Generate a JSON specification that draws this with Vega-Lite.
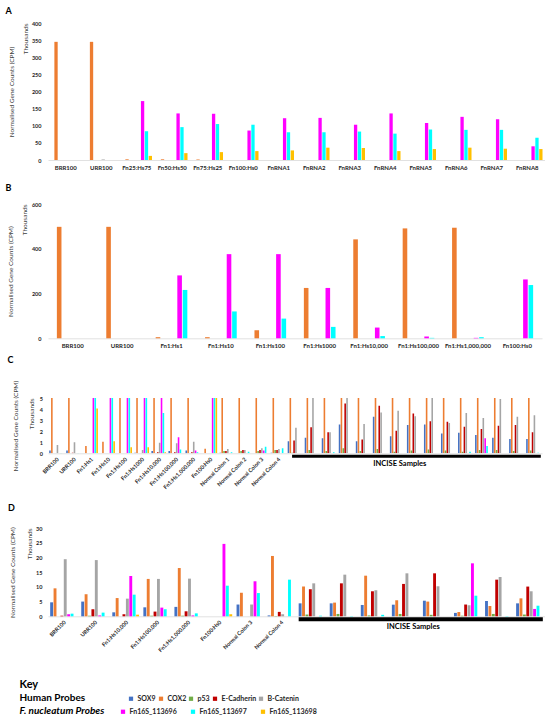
{
  "$schema": "https://vega.github.io/schema/vega-lite/v6.json",
  "background": "white",
  "padding": {"left": 5, "top": 7, "right": 0, "bottom": 0},
  "bounds": "flush",
  "spacing": 0,
  "datasets": {
    "A": [
      {"sample": "BRR100", "probe": "COX2", "value": 345},
      {"sample": "URR100", "probe": "COX2", "value": 345},
      {"sample": "URR100", "probe": "B-Catenin", "value": 1.5},
      {"sample": "Fn25:Hs75", "probe": "COX2", "value": 2},
      {"sample": "Fn25:Hs75", "probe": "Fn16S_113696", "value": 172},
      {"sample": "Fn25:Hs75", "probe": "Fn16S_113697", "value": 84},
      {"sample": "Fn25:Hs75", "probe": "Fn16S_113698", "value": 12},
      {"sample": "Fn50:Hs50", "probe": "COX2", "value": 2},
      {"sample": "Fn50:Hs50", "probe": "Fn16S_113696", "value": 136},
      {"sample": "Fn50:Hs50", "probe": "Fn16S_113697", "value": 96},
      {"sample": "Fn50:Hs50", "probe": "Fn16S_113698", "value": 20},
      {"sample": "Fn75:Hs25", "probe": "COX2", "value": 1.5},
      {"sample": "Fn75:Hs25", "probe": "Fn16S_113696", "value": 135},
      {"sample": "Fn75:Hs25", "probe": "Fn16S_113697", "value": 105},
      {"sample": "Fn75:Hs25", "probe": "Fn16S_113698", "value": 23},
      {"sample": "Fn100:Hs0", "probe": "Fn16S_113696", "value": 86},
      {"sample": "Fn100:Hs0", "probe": "Fn16S_113697", "value": 103},
      {"sample": "Fn100:Hs0", "probe": "Fn16S_113698", "value": 26},
      {"sample": "FnRNA1", "probe": "Fn16S_113696", "value": 122},
      {"sample": "FnRNA1", "probe": "Fn16S_113697", "value": 81},
      {"sample": "FnRNA1", "probe": "Fn16S_113698", "value": 28},
      {"sample": "FnRNA2", "probe": "Fn16S_113696", "value": 123},
      {"sample": "FnRNA2", "probe": "Fn16S_113697", "value": 81},
      {"sample": "FnRNA2", "probe": "Fn16S_113698", "value": 36},
      {"sample": "FnRNA3", "probe": "Fn16S_113696", "value": 103},
      {"sample": "FnRNA3", "probe": "Fn16S_113697", "value": 83},
      {"sample": "FnRNA3", "probe": "Fn16S_113698", "value": 35},
      {"sample": "FnRNA4", "probe": "Fn16S_113696", "value": 136},
      {"sample": "FnRNA4", "probe": "Fn16S_113697", "value": 77},
      {"sample": "FnRNA4", "probe": "Fn16S_113698", "value": 26},
      {"sample": "FnRNA5", "probe": "Fn16S_113696", "value": 108},
      {"sample": "FnRNA5", "probe": "Fn16S_113697", "value": 89},
      {"sample": "FnRNA5", "probe": "Fn16S_113698", "value": 32},
      {"sample": "FnRNA6", "probe": "Fn16S_113696", "value": 126},
      {"sample": "FnRNA6", "probe": "Fn16S_113697", "value": 88},
      {"sample": "FnRNA6", "probe": "Fn16S_113698", "value": 36},
      {"sample": "FnRNA7", "probe": "Fn16S_113696", "value": 119},
      {"sample": "FnRNA7", "probe": "Fn16S_113697", "value": 88},
      {"sample": "FnRNA7", "probe": "Fn16S_113698", "value": 33},
      {"sample": "FnRNA8", "probe": "Fn16S_113696", "value": 40},
      {"sample": "FnRNA8", "probe": "Fn16S_113697", "value": 65},
      {"sample": "FnRNA8", "probe": "Fn16S_113698", "value": 32}
    ],
    "B": [
      {"sample": "BRR100", "probe": "COX2", "value": 498},
      {"sample": "URR100", "probe": "COX2", "value": 498},
      {"sample": "Fn1:Hs1", "probe": "COX2", "value": 5},
      {"sample": "Fn1:Hs1", "probe": "Fn16S_113696", "value": 281},
      {"sample": "Fn1:Hs1", "probe": "Fn16S_113697", "value": 216},
      {"sample": "Fn1:Hs10", "probe": "COX2", "value": 5},
      {"sample": "Fn1:Hs10", "probe": "Fn16S_113696", "value": 376},
      {"sample": "Fn1:Hs10", "probe": "Fn16S_113697", "value": 120},
      {"sample": "Fn1:Hs100", "probe": "COX2", "value": 36},
      {"sample": "Fn1:Hs100", "probe": "Fn16S_113696", "value": 376},
      {"sample": "Fn1:Hs100", "probe": "Fn16S_113697", "value": 88},
      {"sample": "Fn1:Hs1000", "probe": "COX2", "value": 225},
      {"sample": "Fn1:Hs1000", "probe": "Fn16S_113696", "value": 225},
      {"sample": "Fn1:Hs1000", "probe": "Fn16S_113697", "value": 51},
      {"sample": "Fn1:Hs10,000", "probe": "COX2", "value": 442},
      {"sample": "Fn1:Hs10,000", "probe": "Fn16S_113696", "value": 48},
      {"sample": "Fn1:Hs10,000", "probe": "Fn16S_113697", "value": 10},
      {"sample": "Fn1:Hs100,000", "probe": "COX2", "value": 491},
      {"sample": "Fn1:Hs100,000", "probe": "Fn16S_113696", "value": 8},
      {"sample": "Fn1:Hs100,000", "probe": "Fn16S_113697", "value": 2},
      {"sample": "Fn1:Hs1,000,000", "probe": "COX2", "value": 494},
      {"sample": "Fn1:Hs1,000,000", "probe": "Fn16S_113696", "value": 2},
      {"sample": "Fn1:Hs1,000,000", "probe": "Fn16S_113697", "value": 5},
      {"sample": "Fn100:Hs0", "probe": "Fn16S_113696", "value": 263},
      {"sample": "Fn100:Hs0", "probe": "Fn16S_113697", "value": 238}
    ],
    "C": [
      {"sample": "BRR100", "probe": "SOX9", "value": 0.25},
      {"sample": "BRR100", "probe": "COX2", "value": 5},
      {"sample": "BRR100", "probe": "B-Catenin", "value": 0.75},
      {"sample": "BRR100", "probe": "Fn16S_113697", "value": 0.03},
      {"sample": "URR100", "probe": "SOX9", "value": 0.25},
      {"sample": "URR100", "probe": "COX2", "value": 5},
      {"sample": "URR100", "probe": "E-Cadherin", "value": 0.05},
      {"sample": "URR100", "probe": "B-Catenin", "value": 1.0},
      {"sample": "URR100", "probe": "Fn16S_113697", "value": 0.03},
      {"sample": "Fn1:Hs1", "probe": "COX2", "value": 0.65},
      {"sample": "Fn1:Hs1", "probe": "Fn16S_113696", "value": 5},
      {"sample": "Fn1:Hs1", "probe": "Fn16S_113697", "value": 5},
      {"sample": "Fn1:Hs1", "probe": "Fn16S_113698", "value": 4.05},
      {"sample": "Fn1:Hs10", "probe": "COX2", "value": 1.05},
      {"sample": "Fn1:Hs10", "probe": "Fn16S_113696", "value": 5},
      {"sample": "Fn1:Hs10", "probe": "Fn16S_113697", "value": 5},
      {"sample": "Fn1:Hs10", "probe": "Fn16S_113698", "value": 1.1},
      {"sample": "Fn1:Hs100", "probe": "COX2", "value": 5},
      {"sample": "Fn1:Hs100", "probe": "Fn16S_113696", "value": 5},
      {"sample": "Fn1:Hs100", "probe": "Fn16S_113697", "value": 5},
      {"sample": "Fn1:Hs100", "probe": "Fn16S_113698", "value": 0.55},
      {"sample": "Fn1:Hs1000", "probe": "SOX9", "value": 0.05},
      {"sample": "Fn1:Hs1000", "probe": "COX2", "value": 5},
      {"sample": "Fn1:Hs1000", "probe": "B-Catenin", "value": 0.3},
      {"sample": "Fn1:Hs1000", "probe": "Fn16S_113696", "value": 5},
      {"sample": "Fn1:Hs1000", "probe": "Fn16S_113697", "value": 5},
      {"sample": "Fn1:Hs1000", "probe": "Fn16S_113698", "value": 0.55},
      {"sample": "Fn1:Hs10,000", "probe": "SOX9", "value": 0.2},
      {"sample": "Fn1:Hs10,000", "probe": "COX2", "value": 5},
      {"sample": "Fn1:Hs10,000", "probe": "E-Cadherin", "value": 0.1},
      {"sample": "Fn1:Hs10,000", "probe": "B-Catenin", "value": 0.95},
      {"sample": "Fn1:Hs10,000", "probe": "Fn16S_113696", "value": 5},
      {"sample": "Fn1:Hs10,000", "probe": "Fn16S_113697", "value": 3.65},
      {"sample": "Fn1:Hs10,000", "probe": "Fn16S_113698", "value": 0.1},
      {"sample": "Fn1:Hs100,000", "probe": "SOX9", "value": 0.2},
      {"sample": "Fn1:Hs100,000", "probe": "COX2", "value": 5},
      {"sample": "Fn1:Hs100,000", "probe": "E-Cadherin", "value": 0.1},
      {"sample": "Fn1:Hs100,000", "probe": "B-Catenin", "value": 0.9},
      {"sample": "Fn1:Hs100,000", "probe": "Fn16S_113696", "value": 1.45},
      {"sample": "Fn1:Hs100,000", "probe": "Fn16S_113697", "value": 0.35},
      {"sample": "Fn1:Hs1,000,000", "probe": "SOX9", "value": 0.25},
      {"sample": "Fn1:Hs1,000,000", "probe": "COX2", "value": 5},
      {"sample": "Fn1:Hs1,000,000", "probe": "E-Cadherin", "value": 0.1},
      {"sample": "Fn1:Hs1,000,000", "probe": "B-Catenin", "value": 1.05},
      {"sample": "Fn1:Hs1,000,000", "probe": "Fn16S_113696", "value": 0.25},
      {"sample": "Fn1:Hs1,000,000", "probe": "Fn16S_113697", "value": 0.1},
      {"sample": "Fn100:Hs0", "probe": "COX2", "value": 0.42},
      {"sample": "Fn100:Hs0", "probe": "Fn16S_113696", "value": 5},
      {"sample": "Fn100:Hs0", "probe": "Fn16S_113697", "value": 5},
      {"sample": "Fn100:Hs0", "probe": "Fn16S_113698", "value": 5},
      {"sample": "Normal Colon 1", "probe": "SOX9", "value": 0.05},
      {"sample": "Normal Colon 1", "probe": "COX2", "value": 5},
      {"sample": "Normal Colon 1", "probe": "p53", "value": 0.2},
      {"sample": "Normal Colon 1", "probe": "E-Cadherin", "value": 0.2},
      {"sample": "Normal Colon 1", "probe": "B-Catenin", "value": 0.4},
      {"sample": "Normal Colon 1", "probe": "Fn16S_113697", "value": 0.1},
      {"sample": "Normal Colon 2", "probe": "COX2", "value": 5},
      {"sample": "Normal Colon 2", "probe": "p53", "value": 0.2},
      {"sample": "Normal Colon 2", "probe": "E-Cadherin", "value": 0.3},
      {"sample": "Normal Colon 2", "probe": "B-Catenin", "value": 0.3},
      {"sample": "Normal Colon 2", "probe": "Fn16S_113697", "value": 0.15},
      {"sample": "Normal Colon 3", "probe": "COX2", "value": 5},
      {"sample": "Normal Colon 3", "probe": "p53", "value": 0.2},
      {"sample": "Normal Colon 3", "probe": "E-Cadherin", "value": 0.3},
      {"sample": "Normal Colon 3", "probe": "B-Catenin", "value": 0.45},
      {"sample": "Normal Colon 3", "probe": "Fn16S_113696", "value": 0.25},
      {"sample": "Normal Colon 3", "probe": "Fn16S_113697", "value": 0.6},
      {"sample": "Normal Colon 4", "probe": "SOX9", "value": 0.05},
      {"sample": "Normal Colon 4", "probe": "COX2", "value": 5},
      {"sample": "Normal Colon 4", "probe": "p53", "value": 0.3},
      {"sample": "Normal Colon 4", "probe": "E-Cadherin", "value": 0.3},
      {"sample": "Normal Colon 4", "probe": "B-Catenin", "value": 0.4},
      {"sample": "Normal Colon 4", "probe": "Fn16S_113697", "value": 0.45},
      {"sample": "INCISE 1", "probe": "SOX9", "value": 1.1},
      {"sample": "INCISE 1", "probe": "COX2", "value": 5},
      {"sample": "INCISE 1", "probe": "p53", "value": 0.05},
      {"sample": "INCISE 1", "probe": "E-Cadherin", "value": 1.15},
      {"sample": "INCISE 1", "probe": "B-Catenin", "value": 2.3},
      {"sample": "INCISE 2", "probe": "SOX9", "value": 1.4},
      {"sample": "INCISE 2", "probe": "COX2", "value": 5},
      {"sample": "INCISE 2", "probe": "p53", "value": 0.3},
      {"sample": "INCISE 2", "probe": "E-Cadherin", "value": 2.35},
      {"sample": "INCISE 2", "probe": "B-Catenin", "value": 5},
      {"sample": "INCISE 3", "probe": "SOX9", "value": 1.35},
      {"sample": "INCISE 3", "probe": "COX2", "value": 5},
      {"sample": "INCISE 3", "probe": "p53", "value": 0.2},
      {"sample": "INCISE 3", "probe": "E-Cadherin", "value": 1.9},
      {"sample": "INCISE 3", "probe": "B-Catenin", "value": 1.9},
      {"sample": "INCISE 3", "probe": "Fn16S_113697", "value": 0.1},
      {"sample": "INCISE 4", "probe": "SOX9", "value": 2.6},
      {"sample": "INCISE 4", "probe": "COX2", "value": 5},
      {"sample": "INCISE 4", "probe": "p53", "value": 0.45},
      {"sample": "INCISE 4", "probe": "E-Cadherin", "value": 4.5},
      {"sample": "INCISE 4", "probe": "B-Catenin", "value": 5},
      {"sample": "INCISE 5", "probe": "SOX9", "value": 1.1},
      {"sample": "INCISE 5", "probe": "COX2", "value": 5},
      {"sample": "INCISE 5", "probe": "p53", "value": 0.2},
      {"sample": "INCISE 5", "probe": "E-Cadherin", "value": 1.25},
      {"sample": "INCISE 5", "probe": "B-Catenin", "value": 2.65},
      {"sample": "INCISE 6", "probe": "SOX9", "value": 3.3},
      {"sample": "INCISE 6", "probe": "COX2", "value": 5},
      {"sample": "INCISE 6", "probe": "p53", "value": 0.4},
      {"sample": "INCISE 6", "probe": "E-Cadherin", "value": 4.3},
      {"sample": "INCISE 6", "probe": "B-Catenin", "value": 3.7},
      {"sample": "INCISE 7", "probe": "SOX9", "value": 1.55},
      {"sample": "INCISE 7", "probe": "COX2", "value": 5},
      {"sample": "INCISE 7", "probe": "p53", "value": 0.15},
      {"sample": "INCISE 7", "probe": "E-Cadherin", "value": 2.05},
      {"sample": "INCISE 7", "probe": "B-Catenin", "value": 3.85},
      {"sample": "INCISE 8", "probe": "SOX9", "value": 2.55},
      {"sample": "INCISE 8", "probe": "COX2", "value": 5},
      {"sample": "INCISE 8", "probe": "p53", "value": 0.25},
      {"sample": "INCISE 8", "probe": "E-Cadherin", "value": 3.6},
      {"sample": "INCISE 8", "probe": "B-Catenin", "value": 3.35},
      {"sample": "INCISE 9", "probe": "SOX9", "value": 2.6},
      {"sample": "INCISE 9", "probe": "COX2", "value": 5},
      {"sample": "INCISE 9", "probe": "p53", "value": 0.35},
      {"sample": "INCISE 9", "probe": "E-Cadherin", "value": 2.9},
      {"sample": "INCISE 9", "probe": "B-Catenin", "value": 5},
      {"sample": "INCISE 10", "probe": "SOX9", "value": 1.8},
      {"sample": "INCISE 10", "probe": "COX2", "value": 5},
      {"sample": "INCISE 10", "probe": "p53", "value": 0.25},
      {"sample": "INCISE 10", "probe": "E-Cadherin", "value": 2.85},
      {"sample": "INCISE 10", "probe": "B-Catenin", "value": 2.75},
      {"sample": "INCISE 11", "probe": "SOX9", "value": 1.85},
      {"sample": "INCISE 11", "probe": "COX2", "value": 5},
      {"sample": "INCISE 11", "probe": "p53", "value": 0.15},
      {"sample": "INCISE 11", "probe": "E-Cadherin", "value": 2.4},
      {"sample": "INCISE 11", "probe": "B-Catenin", "value": 3.65},
      {"sample": "INCISE 11", "probe": "Fn16S_113697", "value": 0.15},
      {"sample": "INCISE 12", "probe": "SOX9", "value": 1.65},
      {"sample": "INCISE 12", "probe": "COX2", "value": 5},
      {"sample": "INCISE 12", "probe": "p53", "value": 0.3},
      {"sample": "INCISE 12", "probe": "E-Cadherin", "value": 2.2},
      {"sample": "INCISE 12", "probe": "B-Catenin", "value": 3.2},
      {"sample": "INCISE 12", "probe": "Fn16S_113696", "value": 1.35},
      {"sample": "INCISE 12", "probe": "Fn16S_113697", "value": 0.65},
      {"sample": "INCISE 13", "probe": "SOX9", "value": 1.4},
      {"sample": "INCISE 13", "probe": "COX2", "value": 5},
      {"sample": "INCISE 13", "probe": "p53", "value": 0.3},
      {"sample": "INCISE 13", "probe": "E-Cadherin", "value": 2.5},
      {"sample": "INCISE 13", "probe": "B-Catenin", "value": 4.9},
      {"sample": "INCISE 14", "probe": "SOX9", "value": 1.3},
      {"sample": "INCISE 14", "probe": "COX2", "value": 5},
      {"sample": "INCISE 14", "probe": "p53", "value": 0.2},
      {"sample": "INCISE 14", "probe": "E-Cadherin", "value": 2.55},
      {"sample": "INCISE 14", "probe": "B-Catenin", "value": 3.3},
      {"sample": "INCISE 15", "probe": "SOX9", "value": 1.3},
      {"sample": "INCISE 15", "probe": "COX2", "value": 5},
      {"sample": "INCISE 15", "probe": "p53", "value": 0.25},
      {"sample": "INCISE 15", "probe": "E-Cadherin", "value": 1.9},
      {"sample": "INCISE 15", "probe": "B-Catenin", "value": 3.45},
      {"sample": "INCISE 15", "probe": "Fn16S_113697", "value": 0.05}
    ],
    "D": [
      {"sample": "BRR100", "probe": "SOX9", "value": 4.75},
      {"sample": "BRR100", "probe": "COX2", "value": 9.5},
      {"sample": "BRR100", "probe": "E-Cadherin", "value": 0.2},
      {"sample": "BRR100", "probe": "B-Catenin", "value": 19.4},
      {"sample": "BRR100", "probe": "Fn16S_113696", "value": 0.7},
      {"sample": "BRR100", "probe": "Fn16S_113697", "value": 0.9},
      {"sample": "URR100", "probe": "SOX9", "value": 5.0},
      {"sample": "URR100", "probe": "COX2", "value": 7.5},
      {"sample": "URR100", "probe": "p53", "value": 0.2},
      {"sample": "URR100", "probe": "E-Cadherin", "value": 2.4},
      {"sample": "URR100", "probe": "B-Catenin", "value": 19.1},
      {"sample": "URR100", "probe": "Fn16S_113696", "value": 0.3},
      {"sample": "URR100", "probe": "Fn16S_113697", "value": 1.25},
      {"sample": "Fn1:Hs10,000", "probe": "SOX9", "value": 1.35},
      {"sample": "Fn1:Hs10,000", "probe": "COX2", "value": 6.2},
      {"sample": "Fn1:Hs10,000", "probe": "E-Cadherin", "value": 0.7},
      {"sample": "Fn1:Hs10,000", "probe": "B-Catenin", "value": 6.0},
      {"sample": "Fn1:Hs10,000", "probe": "Fn16S_113696", "value": 13.7},
      {"sample": "Fn1:Hs10,000", "probe": "Fn16S_113697", "value": 7.35},
      {"sample": "Fn1:Hs10,000", "probe": "Fn16S_113698", "value": 0.55},
      {"sample": "Fn1:Hs100,000", "probe": "SOX9", "value": 3.05},
      {"sample": "Fn1:Hs100,000", "probe": "COX2", "value": 12.7},
      {"sample": "Fn1:Hs100,000", "probe": "p53", "value": 0.2},
      {"sample": "Fn1:Hs100,000", "probe": "E-Cadherin", "value": 1.6},
      {"sample": "Fn1:Hs100,000", "probe": "B-Catenin", "value": 12.7},
      {"sample": "Fn1:Hs100,000", "probe": "Fn16S_113696", "value": 2.95},
      {"sample": "Fn1:Hs100,000", "probe": "Fn16S_113697", "value": 2.4},
      {"sample": "Fn1:Hs1,000,000", "probe": "SOX9", "value": 3.2},
      {"sample": "Fn1:Hs1,000,000", "probe": "COX2", "value": 16.4},
      {"sample": "Fn1:Hs1,000,000", "probe": "p53", "value": 0.2},
      {"sample": "Fn1:Hs1,000,000", "probe": "E-Cadherin", "value": 1.7},
      {"sample": "Fn1:Hs1,000,000", "probe": "B-Catenin", "value": 12.8},
      {"sample": "Fn1:Hs1,000,000", "probe": "Fn16S_113696", "value": 0.3},
      {"sample": "Fn1:Hs1,000,000", "probe": "Fn16S_113697", "value": 1.0},
      {"sample": "Fn100:Hs0", "probe": "Fn16S_113696", "value": 24.6},
      {"sample": "Fn100:Hs0", "probe": "Fn16S_113697", "value": 10.4},
      {"sample": "Fn100:Hs0", "probe": "Fn16S_113698", "value": 0.7},
      {"sample": "Normal Colon 3", "probe": "SOX9", "value": 4.0},
      {"sample": "Normal Colon 3", "probe": "COX2", "value": 8.0},
      {"sample": "Normal Colon 3", "probe": "B-Catenin", "value": 4.0},
      {"sample": "Normal Colon 3", "probe": "Fn16S_113696", "value": 11.9},
      {"sample": "Normal Colon 3", "probe": "Fn16S_113697", "value": 7.9},
      {"sample": "Normal Colon 4", "probe": "SOX9", "value": 0.3},
      {"sample": "Normal Colon 4", "probe": "COX2", "value": 20.5},
      {"sample": "Normal Colon 4", "probe": "p53", "value": 0.1},
      {"sample": "Normal Colon 4", "probe": "E-Cadherin", "value": 1.5},
      {"sample": "Normal Colon 4", "probe": "B-Catenin", "value": 0.7},
      {"sample": "Normal Colon 4", "probe": "Fn16S_113697", "value": 12.45},
      {"sample": "INCISE 1", "probe": "SOX9", "value": 4.4},
      {"sample": "INCISE 1", "probe": "COX2", "value": 10.1},
      {"sample": "INCISE 1", "probe": "p53", "value": 0.6},
      {"sample": "INCISE 1", "probe": "E-Cadherin", "value": 9.2},
      {"sample": "INCISE 1", "probe": "B-Catenin", "value": 11.2},
      {"sample": "INCISE 1", "probe": "Fn16S_113697", "value": 0.2},
      {"sample": "INCISE 2", "probe": "SOX9", "value": 4.4},
      {"sample": "INCISE 2", "probe": "COX2", "value": 4.65},
      {"sample": "INCISE 2", "probe": "p53", "value": 0.8},
      {"sample": "INCISE 2", "probe": "E-Cadherin", "value": 11.2},
      {"sample": "INCISE 2", "probe": "B-Catenin", "value": 14.15},
      {"sample": "INCISE 2", "probe": "Fn16S_113697", "value": 0.1},
      {"sample": "INCISE 3", "probe": "SOX9", "value": 3.85},
      {"sample": "INCISE 3", "probe": "COX2", "value": 13.8},
      {"sample": "INCISE 3", "probe": "p53", "value": 0.3},
      {"sample": "INCISE 3", "probe": "E-Cadherin", "value": 8.5},
      {"sample": "INCISE 3", "probe": "B-Catenin", "value": 8.85},
      {"sample": "INCISE 3", "probe": "Fn16S_113697", "value": 0.5},
      {"sample": "INCISE 4", "probe": "SOX9", "value": 3.95},
      {"sample": "INCISE 4", "probe": "COX2", "value": 5.45},
      {"sample": "INCISE 4", "probe": "p53", "value": 0.8},
      {"sample": "INCISE 4", "probe": "E-Cadherin", "value": 11.0},
      {"sample": "INCISE 4", "probe": "B-Catenin", "value": 14.6},
      {"sample": "INCISE 5", "probe": "SOX9", "value": 5.3},
      {"sample": "INCISE 5", "probe": "COX2", "value": 5.0},
      {"sample": "INCISE 5", "probe": "p53", "value": 0.5},
      {"sample": "INCISE 5", "probe": "E-Cadherin", "value": 14.6},
      {"sample": "INCISE 5", "probe": "B-Catenin", "value": 10.2},
      {"sample": "INCISE 6", "probe": "SOX9", "value": 1.15},
      {"sample": "INCISE 6", "probe": "COX2", "value": 1.45},
      {"sample": "INCISE 6", "probe": "p53", "value": 0.2},
      {"sample": "INCISE 6", "probe": "E-Cadherin", "value": 4.0},
      {"sample": "INCISE 6", "probe": "B-Catenin", "value": 3.75},
      {"sample": "INCISE 6", "probe": "Fn16S_113696", "value": 18.0},
      {"sample": "INCISE 6", "probe": "Fn16S_113697", "value": 7.0},
      {"sample": "INCISE 7", "probe": "SOX9", "value": 5.2},
      {"sample": "INCISE 7", "probe": "COX2", "value": 3.5},
      {"sample": "INCISE 7", "probe": "p53", "value": 0.8},
      {"sample": "INCISE 7", "probe": "E-Cadherin", "value": 12.45},
      {"sample": "INCISE 7", "probe": "B-Catenin", "value": 13.35},
      {"sample": "INCISE 7", "probe": "Fn16S_113697", "value": 0.1},
      {"sample": "INCISE 8", "probe": "SOX9", "value": 4.4},
      {"sample": "INCISE 8", "probe": "COX2", "value": 6.1},
      {"sample": "INCISE 8", "probe": "p53", "value": 0.6},
      {"sample": "INCISE 8", "probe": "E-Cadherin", "value": 10.1},
      {"sample": "INCISE 8", "probe": "B-Catenin", "value": 8.5},
      {"sample": "INCISE 8", "probe": "Fn16S_113696", "value": 2.5},
      {"sample": "INCISE 8", "probe": "Fn16S_113697", "value": 3.6}
    ],
    "incise": [{"label": "INCISE Samples"}]
  },
  "vconcat": [
    {
      "width": 497, "height": 137,
      "title": {"text": "A", "fontSize": 9, "dx": -42.5, "offset": 5},
      "data": {"name": "A"},
      "layer": [
        {
          "transform": [{"filter": "indexof(datum.probe, 'Fn16S') < 0"}],
          "mark": "bar",
          "encoding": {
            "x": {"field": "sample", "type": "nominal", "scale": {"domain": ["BRR100", "URR100", "Fn25:Hs75", "Fn50:Hs50", "Fn75:Hs25", "Fn100:Hs0", "FnRNA1", "FnRNA2", "FnRNA3", "FnRNA4", "FnRNA5", "FnRNA6", "FnRNA7", "FnRNA8"], "paddingInner": 0.14, "paddingOuter": 0.07}, "axis": {"title": null, "labelAngle": 0, "labelFontSize": 6, "labelFontWeight": "bold", "labelPadding": 4, "labelOverlap": false}},
            "xOffset": {"field": "probe", "type": "nominal", "scale": {"domain": ["SOX9", "COX2", "p53", "E-Cadherin", "B-Catenin", "Fn16S_113696", "Fn16S_113697", "Fn16S_113698"], "paddingInner": 0.15}},
            "y": {"field": "value", "type": "quantitative", "scale": {"domain": [0, 400]}, "axis": {"title": "Normalised Gene Counts (CPM)", "values": [0, 50, 100, 150, 200, 250, 300, 350, 400], "labelFontSize": 5.5, "labelFontWeight": "bold", "labelPadding": 7, "titleFontSize": 6.5, "titleFontWeight": "normal", "titlePadding": 17}},
            "color": {"field": "probe", "type": "nominal", "scale": {"domain": ["SOX9", "COX2", "p53", "E-Cadherin", "B-Catenin"], "range": ["#4472C4", "#ED7D31", "#70AD47", "#C00000", "#A5A5A5"]}, "legend": {"title": "Human Probes", "legendX": -28.5, "legendY": 672, "titlePadding": 42, "columnPadding": 1}}
          }
        },
        {
          "transform": [{"filter": "indexof(datum.probe, 'Fn16S') == 0"}],
          "mark": "bar",
          "encoding": {
            "x": {"field": "sample", "type": "nominal", "scale": {"domain": ["BRR100", "URR100", "Fn25:Hs75", "Fn50:Hs50", "Fn75:Hs25", "Fn100:Hs0", "FnRNA1", "FnRNA2", "FnRNA3", "FnRNA4", "FnRNA5", "FnRNA6", "FnRNA7", "FnRNA8"], "paddingInner": 0.14, "paddingOuter": 0.07}, "axis": {"title": null, "labelAngle": 0, "labelFontSize": 6, "labelFontWeight": "bold", "labelPadding": 4, "labelOverlap": false}},
            "xOffset": {"field": "probe", "type": "nominal", "scale": {"domain": ["SOX9", "COX2", "p53", "E-Cadherin", "B-Catenin", "Fn16S_113696", "Fn16S_113697", "Fn16S_113698"], "paddingInner": 0.15}},
            "y": {"field": "value", "type": "quantitative", "scale": {"domain": [0, 400]}, "axis": {"orient": "left", "title": "Thousands", "titleAnchor": "end", "labels": false, "titleFontSize": 6.5, "titleFontWeight": "normal", "titlePadding": 20}},
            "fill": {"field": "probe", "type": "nominal", "scale": {"domain": ["Fn16S_113696", "Fn16S_113697", "Fn16S_113698"], "range": ["#FF00FF", "#00FFFF", "#FFC000"]}, "legend": {"title": "F. nucleatum Probes", "legendX": -28.5, "legendY": 685, "titlePadding": 15, "columnPadding": 12, "titleFontStyle": "italic"}}
          }
        }
      ],
      "resolve": {"axis": {"y": "independent"}}
    },
    {"width": 497, "height": 43.3, "data": {"values": [{}]}, "mark": {"type": "point", "opacity": 0}},
    {
      "width": 494, "height": 134.3,
      "title": {"text": "B", "fontSize": 9, "dx": -42.5, "offset": 9},
      "data": {"name": "B"},
      "layer": [
        {
          "transform": [{"filter": "indexof(datum.probe, 'Fn16S') < 0"}],
          "mark": "bar",
          "encoding": {
            "x": {"field": "sample", "type": "nominal", "scale": {"domain": ["BRR100", "URR100", "Fn1:Hs1", "Fn1:Hs10", "Fn1:Hs100", "Fn1:Hs1000", "Fn1:Hs10,000", "Fn1:Hs100,000", "Fn1:Hs1,000,000", "Fn100:Hs0"], "paddingInner": 0.14, "paddingOuter": 0.07}, "axis": {"title": null, "labelAngle": 0, "labelFontSize": 6, "labelFontWeight": "bold", "labelPadding": 4, "labelOverlap": false}},
            "xOffset": {"field": "probe", "type": "nominal", "scale": {"domain": ["SOX9", "COX2", "p53", "E-Cadherin", "B-Catenin", "Fn16S_113696", "Fn16S_113697", "Fn16S_113698"], "paddingInner": 0.15}},
            "y": {"field": "value", "type": "quantitative", "scale": {"domain": [0, 600]}, "axis": {"title": "Normalised Gene Counts (CPM)", "values": [0, 200, 400, 600], "labelFontSize": 5.5, "labelFontWeight": "bold", "labelPadding": 7, "titleFontSize": 6.5, "titleFontWeight": "normal", "titlePadding": 18}},
            "color": {"field": "probe", "type": "nominal", "scale": {"domain": ["SOX9", "COX2", "p53", "E-Cadherin", "B-Catenin"], "range": ["#4472C4", "#ED7D31", "#70AD47", "#C00000", "#A5A5A5"]}}
          }
        },
        {
          "transform": [{"filter": "indexof(datum.probe, 'Fn16S') == 0"}],
          "mark": "bar",
          "encoding": {
            "x": {"field": "sample", "type": "nominal", "scale": {"domain": ["BRR100", "URR100", "Fn1:Hs1", "Fn1:Hs10", "Fn1:Hs100", "Fn1:Hs1000", "Fn1:Hs10,000", "Fn1:Hs100,000", "Fn1:Hs1,000,000", "Fn100:Hs0"], "paddingInner": 0.14, "paddingOuter": 0.07}, "axis": {"title": null, "labelAngle": 0, "labelFontSize": 6, "labelFontWeight": "bold", "labelPadding": 4, "labelOverlap": false}},
            "xOffset": {"field": "probe", "type": "nominal", "scale": {"domain": ["SOX9", "COX2", "p53", "E-Cadherin", "B-Catenin", "Fn16S_113696", "Fn16S_113697", "Fn16S_113698"], "paddingInner": 0.15}},
            "y": {"field": "value", "type": "quantitative", "scale": {"domain": [0, 600]}, "axis": {"orient": "left", "title": "Thousands", "titleAnchor": "end", "labels": false, "titleFontSize": 6.5, "titleFontWeight": "normal", "titlePadding": 21}},
            "fill": {"field": "probe", "type": "nominal", "scale": {"domain": ["Fn16S_113696", "Fn16S_113697", "Fn16S_113698"], "range": ["#FF00FF", "#00FFFF", "#FFC000"]}}
          }
        }
      ],
      "resolve": {"axis": {"y": "independent"}}
    },
    {"width": 494, "height": 58.7, "data": {"values": [{}]}, "mark": {"type": "point", "opacity": 0}},
    {
      "width": 494, "height": 55.3,
      "title": {"text": "C", "fontSize": 9, "dx": -40.5, "offset": 15},
      "data": {"name": "C"},
      "layer": [
        {
          "transform": [{"filter": "indexof(datum.probe, 'Fn16S') < 0"}],
          "mark": {"type": "bar", "clip": true},
          "encoding": {
            "x": {"field": "sample", "type": "nominal", "scale": {"domain": ["BRR100", "URR100", "Fn1:Hs1", "Fn1:Hs10", "Fn1:Hs100", "Fn1:Hs1000", "Fn1:Hs10,000", "Fn1:Hs100,000", "Fn1:Hs1,000,000", "Fn100:Hs0", "Normal Colon 1", "Normal Colon 2", "Normal Colon 3", "Normal Colon 4", "INCISE 1", "INCISE 2", "INCISE 3", "INCISE 4", "INCISE 5", "INCISE 6", "INCISE 7", "INCISE 8", "INCISE 9", "INCISE 10", "INCISE 11", "INCISE 12", "INCISE 13", "INCISE 14", "INCISE 15"], "paddingInner": 0.14, "paddingOuter": 0.07}, "axis": {"title": null, "labelAngle": -45, "labelFontSize": 5.5, "labelFontWeight": "bold", "labelPadding": 3, "labelOverlap": false, "labelExpr": "indexof(datum.label, 'INCISE') == 0 ? '' : datum.label"}},
            "xOffset": {"field": "probe", "type": "nominal", "scale": {"domain": ["SOX9", "COX2", "p53", "E-Cadherin", "B-Catenin", "Fn16S_113696", "Fn16S_113697", "Fn16S_113698"], "paddingInner": 0.15}},
            "y": {"field": "value", "type": "quantitative", "scale": {"domain": [0, 5]}, "axis": {"title": "Normalised Gene Counts (CPM)", "values": [0, 1, 2, 3, 4, 5], "labelFontSize": 5.5, "labelFontWeight": "bold", "labelPadding": 5.5, "titleFontSize": 6.5, "titleFontWeight": "normal", "titlePadding": 21}},
            "color": {"field": "probe", "type": "nominal", "scale": {"domain": ["SOX9", "COX2", "p53", "E-Cadherin", "B-Catenin"], "range": ["#4472C4", "#ED7D31", "#70AD47", "#C00000", "#A5A5A5"]}}
          }
        },
        {
          "transform": [{"filter": "indexof(datum.probe, 'Fn16S') == 0"}],
          "mark": {"type": "bar", "clip": true},
          "encoding": {
            "x": {"field": "sample", "type": "nominal", "scale": {"domain": ["BRR100", "URR100", "Fn1:Hs1", "Fn1:Hs10", "Fn1:Hs100", "Fn1:Hs1000", "Fn1:Hs10,000", "Fn1:Hs100,000", "Fn1:Hs1,000,000", "Fn100:Hs0", "Normal Colon 1", "Normal Colon 2", "Normal Colon 3", "Normal Colon 4", "INCISE 1", "INCISE 2", "INCISE 3", "INCISE 4", "INCISE 5", "INCISE 6", "INCISE 7", "INCISE 8", "INCISE 9", "INCISE 10", "INCISE 11", "INCISE 12", "INCISE 13", "INCISE 14", "INCISE 15"], "paddingInner": 0.14, "paddingOuter": 0.07}, "axis": {"title": null, "labelAngle": -45, "labelFontSize": 5.5, "labelFontWeight": "bold", "labelPadding": 3, "labelOverlap": false, "labelExpr": "indexof(datum.label, 'INCISE') == 0 ? '' : datum.label"}},
            "xOffset": {"field": "probe", "type": "nominal", "scale": {"domain": ["SOX9", "COX2", "p53", "E-Cadherin", "B-Catenin", "Fn16S_113696", "Fn16S_113697", "Fn16S_113698"], "paddingInner": 0.15}},
            "y": {"field": "value", "type": "quantitative", "scale": {"domain": [0, 5]}, "axis": {"orient": "left", "title": "Thousands", "titleAnchor": "end", "labels": false, "titleFontSize": 6.5, "titleFontWeight": "normal", "titlePadding": 14}},
            "fill": {"field": "probe", "type": "nominal", "scale": {"domain": ["Fn16S_113696", "Fn16S_113697", "Fn16S_113698"], "range": ["#FF00FF", "#00FFFF", "#FFC000"]}}
          }
        },
        {
          "data": {"name": "incise"},
          "mark": {"type": "rule", "color": "black", "strokeWidth": 3},
          "encoding": {
            "x": {"datum": "INCISE 1", "type": "nominal", "bandPosition": 0.3, "axis": {"title": null, "labelAngle": -45, "labelFontSize": 5.5, "labelFontWeight": "bold", "labelPadding": 3, "labelOverlap": false, "labelExpr": "indexof(datum.label, 'INCISE') == 0 ? '' : datum.label"}},
            "x2": {"datum": "INCISE 15", "bandPosition": 1},
            "y": {"datum": -0.27, "type": "quantitative", "axis": null}
          }
        },
        {
          "data": {"name": "incise"},
          "mark": {"type": "text", "fontSize": 7.5, "fontWeight": "bold", "color": "black", "baseline": "middle", "align": "center"},
          "encoding": {
            "x": {"datum": "INCISE 7", "type": "nominal", "bandPosition": 0.68, "axis": {"title": null, "labelAngle": -45, "labelFontSize": 5.5, "labelFontWeight": "bold", "labelPadding": 3, "labelOverlap": false, "labelExpr": "indexof(datum.label, 'INCISE') == 0 ? '' : datum.label"}},
            "y": {"datum": -0.97, "type": "quantitative", "axis": null},
            "text": {"field": "label"}
          }
        }
      ],
      "resolve": {"axis": {"y": "independent"}}
    },
    {"width": 494, "height": 73.4, "data": {"values": [{}]}, "mark": {"type": "point", "opacity": 0}},
    {
      "width": 497, "height": 88.3,
      "title": {"text": "D", "fontSize": 9, "dx": -40, "offset": 12.7},
      "data": {"name": "D"},
      "layer": [
        {
          "transform": [{"filter": "indexof(datum.probe, 'Fn16S') < 0"}],
          "mark": "bar",
          "encoding": {
            "x": {"field": "sample", "type": "nominal", "scale": {"domain": ["BRR100", "URR100", "Fn1:Hs10,000", "Fn1:Hs100,000", "Fn1:Hs1,000,000", "Fn100:Hs0", "Normal Colon 3", "Normal Colon 4", "INCISE 1", "INCISE 2", "INCISE 3", "INCISE 4", "INCISE 5", "INCISE 6", "INCISE 7", "INCISE 8"], "paddingInner": 0.14, "paddingOuter": 0.07}, "axis": {"title": null, "labelAngle": -45, "labelFontSize": 5.5, "labelFontWeight": "bold", "labelPadding": 3, "labelOverlap": false, "labelExpr": "indexof(datum.label, 'INCISE') == 0 ? '' : datum.label"}},
            "xOffset": {"field": "probe", "type": "nominal", "scale": {"domain": ["SOX9", "COX2", "p53", "E-Cadherin", "B-Catenin", "Fn16S_113696", "Fn16S_113697", "Fn16S_113698"], "paddingInner": 0.15}},
            "y": {"field": "value", "type": "quantitative", "scale": {"domain": [0, 30]}, "axis": {"title": "Normalised Gene Counts (CPM)", "values": [0, 5, 10, 15, 20, 25, 30], "labelFontSize": 5.5, "labelFontWeight": "bold", "labelPadding": 6, "titleFontSize": 6.5, "titleFontWeight": "normal", "titlePadding": 20}},
            "color": {"field": "probe", "type": "nominal", "scale": {"domain": ["SOX9", "COX2", "p53", "E-Cadherin", "B-Catenin"], "range": ["#4472C4", "#ED7D31", "#70AD47", "#C00000", "#A5A5A5"]}}
          }
        },
        {
          "transform": [{"filter": "indexof(datum.probe, 'Fn16S') == 0"}],
          "mark": "bar",
          "encoding": {
            "x": {"field": "sample", "type": "nominal", "scale": {"domain": ["BRR100", "URR100", "Fn1:Hs10,000", "Fn1:Hs100,000", "Fn1:Hs1,000,000", "Fn100:Hs0", "Normal Colon 3", "Normal Colon 4", "INCISE 1", "INCISE 2", "INCISE 3", "INCISE 4", "INCISE 5", "INCISE 6", "INCISE 7", "INCISE 8"], "paddingInner": 0.14, "paddingOuter": 0.07}, "axis": {"title": null, "labelAngle": -45, "labelFontSize": 5.5, "labelFontWeight": "bold", "labelPadding": 3, "labelOverlap": false, "labelExpr": "indexof(datum.label, 'INCISE') == 0 ? '' : datum.label"}},
            "xOffset": {"field": "probe", "type": "nominal", "scale": {"domain": ["SOX9", "COX2", "p53", "E-Cadherin", "B-Catenin", "Fn16S_113696", "Fn16S_113697", "Fn16S_113698"], "paddingInner": 0.15}},
            "y": {"field": "value", "type": "quantitative", "scale": {"domain": [0, 30]}, "axis": {"orient": "left", "title": "Thousands", "titleAnchor": "end", "labels": false, "titleFontSize": 6.5, "titleFontWeight": "normal", "titlePadding": 16}},
            "fill": {"field": "probe", "type": "nominal", "scale": {"domain": ["Fn16S_113696", "Fn16S_113697", "Fn16S_113698"], "range": ["#FF00FF", "#00FFFF", "#FFC000"]}}
          }
        },
        {
          "data": {"name": "incise"},
          "mark": {"type": "rule", "color": "black", "strokeWidth": 4},
          "encoding": {
            "x": {"datum": "INCISE 1", "type": "nominal", "bandPosition": 0, "axis": {"title": null, "labelAngle": -45, "labelFontSize": 5.5, "labelFontWeight": "bold", "labelPadding": 3, "labelOverlap": false, "labelExpr": "indexof(datum.label, 'INCISE') == 0 ? '' : datum.label"}},
            "x2": {"datum": "INCISE 8", "bandPosition": 1},
            "y": {"datum": -1.02, "type": "quantitative", "axis": null}
          }
        },
        {
          "data": {"name": "incise"},
          "mark": {"type": "text", "fontSize": 7.5, "fontWeight": "bold", "color": "black", "baseline": "middle", "align": "center"},
          "encoding": {
            "x": {"datum": "INCISE 4", "type": "nominal", "bandPosition": 0.8, "axis": {"title": null, "labelAngle": -45, "labelFontSize": 5.5, "labelFontWeight": "bold", "labelPadding": 3, "labelOverlap": false, "labelExpr": "indexof(datum.label, 'INCISE') == 0 ? '' : datum.label"}},
            "y": {"datum": -3.6, "type": "quantitative", "axis": null},
            "text": {"field": "label"}
          }
        }
      ],
      "resolve": {"axis": {"y": "independent"}}
    },
    {"width": 497, "height": 74, "data": {"values": [{}]}, "mark": {"type": "point", "opacity": 0}},
    {
      "width": 497, "height": 20,
      "title": {"text": "Key", "fontSize": 11, "dx": -28.5, "offset": 1},
      "data": {"values": [{}]},
      "mark": {"type": "point", "opacity": 0}
    }
  ],
  "resolve": {"scale": {"x": "independent", "y": "independent", "xOffset": "independent"}},
  "config": {
    "view": {"stroke": null},
    "font": "Lato",
    "axis": {"grid": false, "ticks": false, "labelColor": "#262626", "titleColor": "#404040"},
    "axisX": {"domainColor": "#d9d9d9", "domainWidth": 0.8},
    "axisY": {"domain": false},
    "legend": {"orient": "none", "direction": "horizontal", "titleOrient": "left", "symbolType": "square", "symbolSize": 18, "symbolStrokeWidth": 0, "labelFontSize": 7, "labelFontWeight": "bold", "labelColor": "#262626", "labelOffset": 3, "titleFontSize": 10, "titleFontWeight": "bold", "titleColor": "black", "padding": 0},
    "title": {"fontWeight": "bold", "color": "black", "anchor": "start", "frame": "group"}
  }
}
